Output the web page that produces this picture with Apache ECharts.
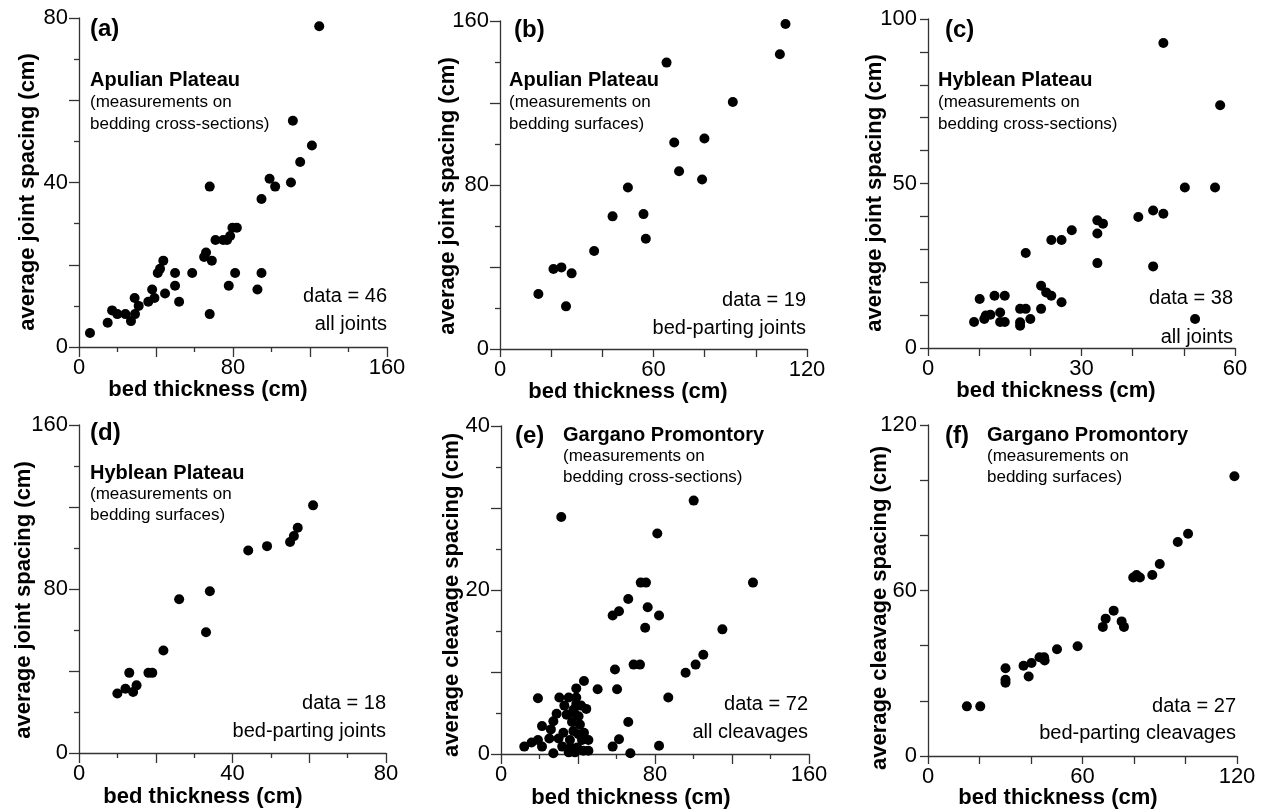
<!DOCTYPE html>
<html>
<head>
<meta charset="utf-8">
<script src="https://cdn.jsdelivr.net/npm/echarts@6/dist/echarts.min.js"></script>
<style>
  html, body { margin: 0; padding: 0; background: #fff; }
  #main { width: 1264px; height: 812px; }
</style>
</head>
<body>
<div id="main"></div>
<script>
// (a) Apulian Plateau, cross-sections
let thickA = [5.7, 14.9, 17.2, 19.9, 24.1, 27.0, 28.9, 29.1, 31.0, 36.0, 38.0, 39.2, 40.9, 42.1, 43.8, 44.7, 49.9, 49.9, 52.0, 58.8, 65.0, 66.0, 67.9, 67.9, 69.0, 70.9, 74.9, 76.9, 78.5, 77.8, 79.7, 82.0, 81.1, 92.7, 94.8, 94.8, 99.0, 101.9, 110.1, 111.1, 114.9, 121.0, 124.8];
let spaceA = [3.4, 5.9, 8.9, 8.0, 8.0, 6.3, 11.9, 8.0, 10.0, 11.0, 14.0, 11.9, 18.0, 19.0, 21.0, 13.0, 18.0, 14.9, 11.0, 18.0, 21.9, 23.0, 39.0, 8.0, 21.0, 26.0, 26.0, 26.0, 27.0, 14.9, 29.0, 29.0, 18.0, 14.0, 18.0, 36.0, 40.9, 39.0, 40.0, 55.0, 45.0, 49.0, 78.0];
// (b) Apulian Plateau, surfaces
let thickB = [15.0, 20.9, 24.0, 25.8, 28.0, 36.8, 44.0, 50.0, 56.1, 57.0, 65.1, 68.1, 70.0, 79.0, 79.9, 91.0, 109.4, 111.6];
let spaceB = [26.8, 39.0, 39.8, 20.8, 36.9, 47.8, 64.7, 78.8, 65.8, 53.8, 139.7, 100.7, 86.7, 82.7, 102.7, 120.5, 143.8, 158.5];
// (c) Hyblean Plateau, cross-sections
let thickC = [9.0, 10.1, 11.0, 11.3, 12.2, 13.0, 14.1, 14.1, 15.0, 15.0, 18.0, 18.0, 18.0, 19.1, 19.1, 20.0, 22.1, 22.1, 23.1, 24.1, 24.1, 26.1, 26.1, 28.1, 33.1, 33.1, 33.1, 34.2, 41.1, 44.0, 44.0, 46.0, 46.0, 50.2, 52.2, 56.1, 57.1];
let spaceC = [7.9, 14.9, 8.8, 9.9, 10.1, 15.9, 10.8, 7.9, 15.9, 7.9, 11.9, 7.8, 6.8, 11.9, 28.9, 8.8, 11.9, 18.9, 16.9, 15.9, 32.8, 32.8, 13.9, 35.8, 38.8, 34.8, 25.8, 37.8, 39.8, 41.8, 24.8, 40.8, 92.7, 48.8, 8.8, 48.8, 73.8];
// (d) Hyblean Plateau, surfaces
let thickD = [10.0, 12.1, 13.1, 14.1, 15.0, 18.1, 19.1, 22.0, 26.1, 33.1, 34.1, 44.1, 49.0, 55.0, 56.0, 57.0, 61.0];
let spaceD = [29.0, 31.3, 39.1, 29.8, 33.0, 39.1, 39.1, 50.0, 75.0, 58.9, 78.9, 98.8, 100.9, 102.9, 105.8, 109.9, 120.8];
// (e) Gargano Promontory, cross-sections (cleavages)
let thickE = [31.3, 81.2, 100.1, 130.9, 72.6, 75.3, 66.1, 76.2, 58.0, 61.3, 82.1, 74.9, 115.0, 105.1, 101.1, 95.9, 68.9, 72.2, 59.2, 60.3, 50.2, 86.9, 66.1, 61.3, 58.0, 67.2, 82.1,
    12.1, 15.9, 19.2, 21.3, 21.3, 19.2, 25.1, 25.9, 27.2, 27.2, 28.9, 29.9, 30.3, 31.8, 32.9, 34.1, 35.2, 35.2, 36.2, 36.9, 37.6, 38.1, 39.1, 39.1, 39.1, 39.6, 40.3, 40.3, 41.0, 41.6, 42.1, 43.1, 43.1, 44.3, 45.4, 45.4, 42.8, 38.4, 37.6, 32.4, 35.8];
let spaceE = [28.9, 26.9, 30.9, 20.9, 20.9, 20.9, 18.9, 17.9, 16.9, 17.4, 16.9, 15.4, 15.2, 12.1, 10.9, 9.9, 10.9, 10.9, 10.3, 7.9, 7.9, 6.9, 3.9, 1.8, 0.9, 0.1, 1.0,
    0.9, 1.4, 1.7, 0.9, 3.4, 6.8, 1.9, 3.0, 4.0, 0.1, 4.9, 1.9, 6.9, 0.9, 5.9, 4.8, 6.9, 0.2, 0.8, 3.9, 2.8, 5.0, 6.9, 8.0, 6.1, 0.8, 2.4, 4.6, 3.6, 5.9, 1.7, 8.9, 2.6, 5.5, 1.7, 0.4, 0.4, 0.2, 5.4, 2.6, 1.7];
// (f) Gargano Promontory, surfaces (cleavages)
let thickF = [15.1, 20.3, 30.1, 30.1, 30.1, 37.1, 39.1, 40.2, 43.3, 45.1, 45.3, 50.1, 58.1, 67.9, 69.0, 72.1, 75.2, 76.1, 79.7, 81.0, 82.3, 87.1, 90.0, 97.0, 101.0, 119.0];
let spaceF = [18.0, 18.0, 31.8, 27.6, 26.6, 32.7, 28.8, 33.7, 35.8, 35.8, 34.6, 38.7, 39.8, 46.8, 49.8, 52.7, 48.8, 46.8, 64.7, 65.6, 64.7, 65.6, 69.6, 77.6, 80.6, 101.4];

let panelLetters = ['(a)', '(b)', '(c)', '(d)', '(e)', '(f)'];
let regionNames = ['Apulian Plateau', 'Apulian Plateau', 'Hyblean Plateau', 'Hyblean Plateau', 'Gargano Promontory', 'Gargano Promontory'];
let measureNotes = ['bedding cross-sections)', 'bedding surfaces)', 'bedding cross-sections)', 'bedding surfaces)', 'bedding cross-sections)', 'bedding surfaces)'];
let dataCounts = ['data = 46', 'data = 19', 'data = 38', 'data = 18', 'data = 72', 'data = 27'];
let fractureTypes = ['all joints', 'bed-parting joints', 'all joints', 'bed-parting joints', 'all cleavages', 'bed-parting cleavages'];
let yNames = ['average joint spacing (cm)', 'average joint spacing (cm)', 'average joint spacing (cm)', 'average joint spacing (cm)', 'average cleavage spacing (cm)', 'average cleavage spacing (cm)'];

let FONT = '"Liberation Sans", Arial, sans-serif';
let AX = '#333';

function zip(xs, ys) {
    let out = [];
    for (let i = 0; i < xs.length; i++) out.push([xs[i], ys[i]]);
    return out;
}

// 坐标轴: step = 刻度间隔, labelStep = 标签间隔, minor = 次刻度分段
function makeAxis(grid, max, step, labelStep, minor, isY) {
    return {
        type: 'value', gridIndex: grid, min: 0, max: max, interval: step,
        axisLine: { show: true, onZero: false, lineStyle: { color: AX, width: 1.3 } },
        axisTick: { show: true, length: minor ? 10 : 8, lineStyle: { color: AX, width: 1.3 } },
        minorTick: { show: !!minor, splitNumber: minor || 2, length: 5, lineStyle: { color: AX, width: 1.3 } },
        splitLine: { show: false },
        minorSplitLine: { show: false },
        axisLabel: {
            fontSize: 22, color: '#000', fontFamily: FONT, margin: isY ? 11 : 10,
            formatter: function (v) { return Math.abs(v % labelStep) < 1e-6 ? String(v) : ''; }
        }
    };
}

let grids = [
    { left: 79, top: 18, width: 308, height: 329 },
    { left: 500, top: 21, width: 307, height: 328 },
    { left: 928, top: 19, width: 307, height: 329 },
    { left: 79, top: 425, width: 307, height: 328 },
    { left: 501, top: 426, width: 308, height: 328 },
    { left: 928, top: 425, width: 309, height: 331 }
];

let xAxes = [
    makeAxis(0, 160, 40, 80, 2),
    makeAxis(1, 120, 20, 60, 0),
    makeAxis(2, 60, 10, 30, 0),
    makeAxis(3, 80, 20, 40, 2),
    makeAxis(4, 160, 40, 80, 2),
    makeAxis(5, 120, 20, 60, 0)
];
let yAxes = [
    makeAxis(0, 80, 20, 40, 2, true),
    makeAxis(1, 160, 40, 80, 2, true),
    makeAxis(2, 100, 10, 50, 0, true),
    makeAxis(3, 160, 40, 80, 2, true),
    makeAxis(4, 40, 10, 20, 2, true),
    makeAxis(5, 120, 20, 60, 0, true)
];

let allData = [zip(thickA, spaceA), zip(thickB, spaceB), zip(thickC, spaceC), zip(thickD, spaceD), zip(thickE, spaceE), zip(thickF, spaceF)];
let series = allData.map(function (d, i) {
    return {
        type: 'scatter', xAxisIndex: i, yAxisIndex: i, data: d,
        symbolSize: 10, itemStyle: { color: '#000', opacity: 1 }, silent: true
    };
});

function txt(x, y, text, size, bold, align, rot) {
    return {
        type: 'text', x: x, y: y, rotation: rot || 0, silent: true,
        style: {
            text: text, fill: '#000',
            font: (bold ? 'bold ' : '') + size + 'px ' + FONT,
            align: align || 'left', textAlign: align || 'left',
            verticalAlign: 'middle', textVerticalAlign: 'middle'
        }
    };
}

// 文字位置 (像素)
let letterPos = [[90, 29], [514, 30], [945, 30], [90, 433], [515, 436], [945, 436]];
let regionPos = [[90, 80], [509, 80], [938, 80], [90, 473], [563, 435], [987, 435]];
let subGap = [22, 22, 22, 21, 21, 21];
let cornerPos = [[387, 296, 324], [806, 300, 328], [1233, 298, 337], [386, 703, 731], [808, 704, 732], [1236, 706, 733]];
let xNamePos = [[208, 390], [628, 392], [1056, 391], [203, 797], [631, 798], [1058, 798]];
let yNamePos = [[28, 192], [448, 196], [875, 193], [24, 600], [452, 595], [880, 608]];

let graphics = [];
for (let i = 0; i < 6; i++) {
    graphics.push(txt(letterPos[i][0], letterPos[i][1], panelLetters[i], 24, true));
    graphics.push(txt(regionPos[i][0], regionPos[i][1], regionNames[i], 20, true));
    graphics.push(txt(regionPos[i][0], regionPos[i][1] + subGap[i], '(measurements on', 17, false));
    graphics.push(txt(regionPos[i][0], regionPos[i][1] + 2 * subGap[i], measureNotes[i], 17, false));
    graphics.push(txt(cornerPos[i][0], cornerPos[i][1], dataCounts[i], 20, false, 'right'));
    graphics.push(txt(cornerPos[i][0], cornerPos[i][2], fractureTypes[i], 20, false, 'right'));
    graphics.push(txt(xNamePos[i][0], xNamePos[i][1], 'bed thickness (cm)', 22, true, 'center'));
    graphics.push(txt(yNamePos[i][0], yNamePos[i][1], yNames[i], 22, true, 'center', Math.PI / 2));
}

let chart = echarts.init(document.getElementById('main'));
chart.setOption({
    backgroundColor: '#fff',
    animation: false,
    grid: grids,
    xAxis: xAxes,
    yAxis: yAxes,
    series: series,
    graphic: graphics
});
</script>
</body>
</html>
